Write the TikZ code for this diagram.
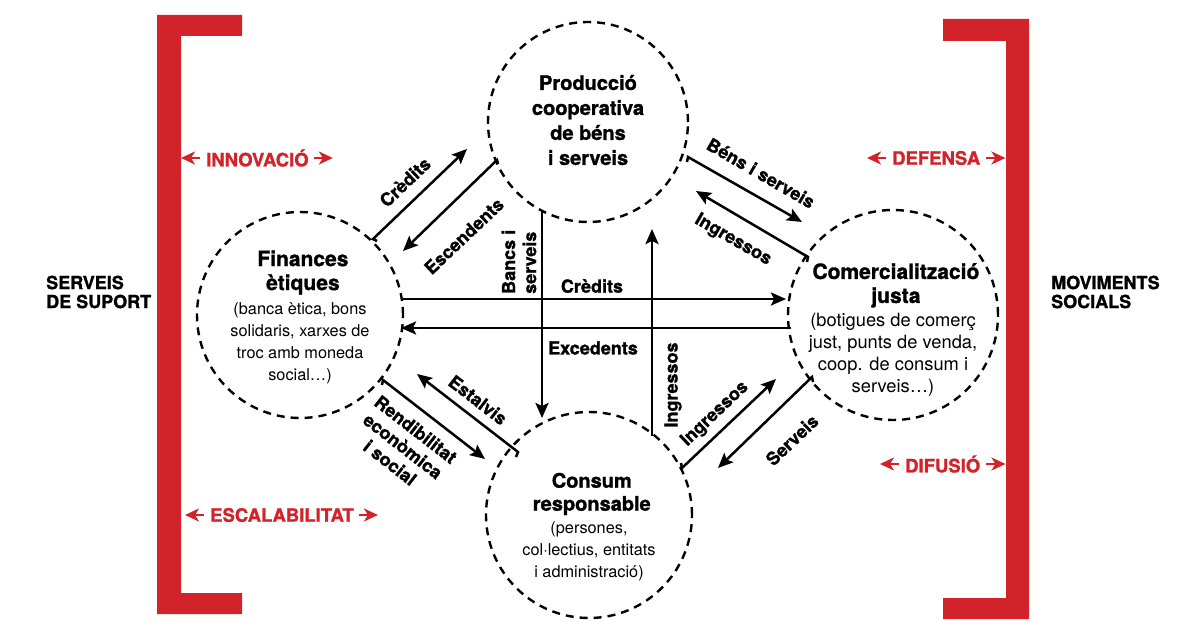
\documentclass[tikz,border=0pt]{standalone}
\usepackage{fontspec}
\setmainfont{TeX Gyre Heros}[BoldFeatures={FakeBold=1.3}]
\usetikzlibrary{arrows.meta}
\definecolor{myred}{HTML}{D2232A}
\newcommand{\ttlfont}[1]{\fontsize{#1}{24}\selectfont\bfseries}
\begin{document}
\begin{tikzpicture}[x=1pt,y=-1pt,
  circ/.style={circle, draw=black, line width=2.4pt, dash pattern=on 8pt off 6pt, inner sep=0pt},
  flow/.style={line width=2.5pt, line join=miter, -{Stealth[length=15pt,width=13pt,inset=3pt]}},
  lbl/.style={font=\fontsize{18}{21}\selectfont\bfseries, inner sep=0pt},
  ttl/.style={font=\fontsize{20}{25}\selectfont\bfseries, align=center, inner sep=0pt},
  desc/.style={font=\fontsize{16.3}{22}\selectfont, align=center, inner sep=0pt},
  side/.style={font=\fontsize{18}{19}\selectfont\bfseries, align=left, inner sep=0pt, anchor=west},
  redlbl/.style={font=\fontsize{18.5}{20}\selectfont\bfseries, text=myred, inner sep=0pt, anchor=west},
  redarr/.style={draw=myred, line width=2.2pt, -{Stealth[length=14pt,width=13pt,inset=4pt]}},
  bracket/.style={fill=myred, draw=none}
]
\useasboundingbox (0,0) rectangle (1189,623);

% brackets
\fill[bracket] (157,15) -- (242,15) -- (242,36) -- (181,36) -- (181,593) -- (242,593) -- (242,614) -- (157,614) -- cycle;
\fill[bracket] (943,19) -- (1029,19) -- (1029,619) -- (943,619) -- (943,598) -- (1006,598) -- (1006,41) -- (943,41) -- cycle;

% circles
\node[circ, minimum size=200pt] (prod) at (588,122) {};
\node[circ, minimum size=206pt] (fin) at (300,315) {};
\node[circ, minimum size=210pt] (com) at (893,315) {};
\node[circ, minimum size=206pt] (cons) at (589,515) {};

% circle texts
\node[ttl] (prodtxt) at (588,120) {Producció\\cooperativa\\de béns\\i serveis};
\node[desc] (fintxt) at (300,317) {{\ttlfont{21} Finances}\\[2pt]{\ttlfont{21} ètiques}\\[2pt](banca ètica, bons\\solidaris, xarxes de\\troc amb moneda\\social…)};
\node[desc, font=\fontsize{18.3}{22}\selectfont] (comtxt) at (893,330) {{\ttlfont{21} Comercialització}\\[2pt]{\ttlfont{21} justa}\\[2pt](botigues de comerç\\just, punts de venda,\\coop. de consum i\\serveis…)};
\node[desc] (constxt) at (589,527) {{\ttlfont{20} Consum}\\[1pt]{\ttlfont{20} responsable}\\[1pt](persones,\\col·lectius, entitats\\i administració)};

% side labels
\node[side] (servtxt) at (46,292) {SERVEIS\\DE SUPORT};
\node[side] (movtxt) at (1051,292) {MOVIMENTS\\SOCIALS};

% endpoints
\coordinate (a1s) at (373,239); \coordinate (a1t) at (467,149); \coordinate (a1k) at (377,241);
\coordinate (a2s) at (497,160); \coordinate (a2t) at (403,251); \coordinate (a2k) at (498,164);
\coordinate (a3s) at (518,452); \coordinate (a3t) at (417,374); \coordinate (a3k) at (516,457);
\coordinate (a4s) at (383,380); \coordinate (a4t) at (485,459); \coordinate (a4k) at (382,385);
\coordinate (a5s) at (682,468); \coordinate (a5t) at (776,379); \coordinate (a5k) at (681,463);
\coordinate (a6s) at (812,377); \coordinate (a6t) at (718,468); \coordinate (a6k) at (813,382);
\coordinate (a7s) at (688,157); \coordinate (a7t) at (802,222); \coordinate (a7k) at (687,162);
\coordinate (a8s) at (808,257); \coordinate (a8t) at (696,191); \coordinate (a8k) at (807,262);
\coordinate (h1s) at (402,299); \coordinate (h1t) at (786,299);
\coordinate (h2s) at (791,328); \coordinate (h2t) at (401,328);
\coordinate (v1s) at (542,210); \coordinate (v1t) at (542,418);
\coordinate (v2s) at (652,436); \coordinate (v2t) at (652,229);

% diagonal flows
\draw[flow] (a1k) -- (a1s) -- (a1t);
\draw[flow] (a2k) -- (a2s) -- (a2t);
\draw[flow] (a3k) -- (a3s) -- (a3t);
\draw[flow] (a4k) -- (a4s) -- (a4t);
\draw[flow] (a5k) -- (a5s) -- (a5t);
\draw[flow] (a6k) -- (a6s) -- (a6t);
\draw[flow] (a7k) -- (a7s) -- (a7t);
\draw[flow] (a8k) -- (a8s) -- (a8t);
% straight flows
\draw[flow] (h1s) -- (h1t);
\draw[flow] (h2s) -- (h2t);
\draw[flow] (v1s) -- (v1t);
\draw[flow] (v2s) -- (v2t);

% flow labels
\node[lbl, rotate=43.5] (l1) at (405,182) {Crèdits};
\node[lbl, rotate=43.5] (l2) at (464,236) {Escendents};
\node[lbl, rotate=-37.7] (l3) at (478,400) {Estalvis};
\node[lbl, rotate=-37.7, align=center] (l4) at (403,446) {Rendibilitat\\econòmica\\i social};
\node[lbl, rotate=43.5] (l5) at (715,414) {Ingressos};
\node[lbl, rotate=43.5] (l6) at (792,440) {Serveis};
\node[lbl, rotate=-30] (l7) at (761,173) {Béns i serveis};
\node[lbl, rotate=-30] (l8) at (733,240) {Ingressos};
\node[lbl] (l9) at (592,286) {Crèdits};
\node[lbl] (l10) at (593,348) {Excedents};
\node[lbl, rotate=90, align=left, anchor=west] (l11) at (519,294) {Bancs i\\serveis};
\node[lbl, rotate=90] (l12) at (673,385) {Ingressos};

% red labels
\node[redlbl] (innov) at (206,158) {INNOVACIÓ};
\draw[redarr] ([xshift=-6pt]innov.west) -- ++(-19,0);
\draw[redarr] ([xshift=5pt]innov.east) -- ++(19,0);
\node[redlbl] (escal) at (210,515) {ESCALABILITAT};
\draw[redarr] ([xshift=-6pt]escal.west) -- ++(-19,0);
\draw[redarr] ([xshift=5pt]escal.east) -- ++(19,0);
\node[redlbl] (defen) at (892,158) {DEFENSA};
\draw[redarr] ([xshift=-6pt]defen.west) -- ++(-19,0);
\draw[redarr] ([xshift=6pt]defen.east) -- ++(19,0);
\node[redlbl] (difus) at (905,464) {DIFUSIÓ};
\draw[redarr] ([xshift=-6pt]difus.west) -- ++(-19,0);
\draw[redarr] ([xshift=6pt]difus.east) -- ++(19,0);
\end{tikzpicture}
\end{document}
